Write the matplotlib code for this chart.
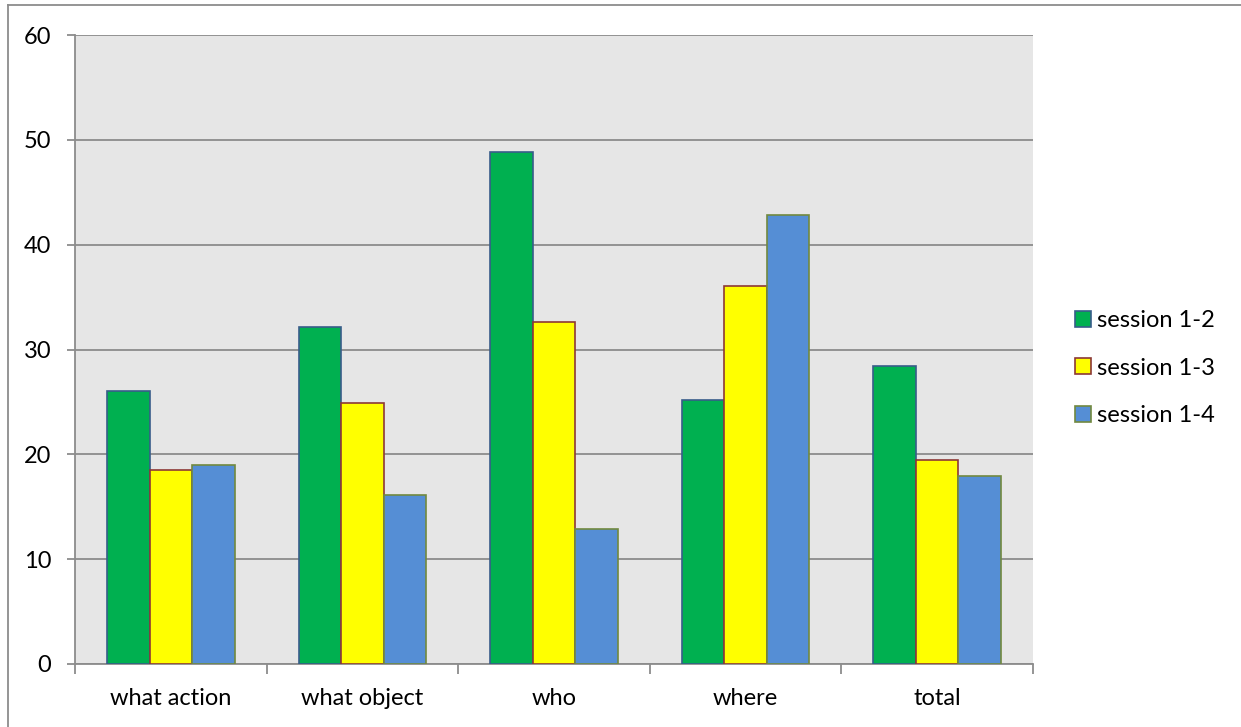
import matplotlib
matplotlib.use("Agg")
import matplotlib.pyplot as plt
from matplotlib.lines import Line2D
import numpy as np

plt.rcParams['font.family'] = ['Lato', 'DejaVu Sans']

# data
categories = ['what action', 'what object', 'who', 'where', 'total']
series_names = ['session 1-2', 'session 1-3', 'session 1-4']
session_12 = [26.0, 32.1, 48.8, 25.2, 28.4]
session_13 = [18.5, 24.9, 32.6, 36.1, 19.5]
session_14 = [19.0, 16.1, 12.9, 42.8, 17.9]

fills = ['#00b050', '#ffff00', '#558ed5']
edges = ['#385d8a', '#8c3836', '#71893f']

W, H = 1241, 727
fig = plt.figure(figsize=(W / 100, H / 100), dpi=100)
ax = fig.add_axes([75 / W, (H - 664) / H, 958 / W, 629 / H])

x = np.arange(len(categories))
w = 1 / 4.5
for j, vals in enumerate([session_12, session_13, session_14]):
    ax.bar(x + (j - 1) * w, vals, width=w, color=fills[j], edgecolor=edges[j],
           linewidth=1.2, label=series_names[j], zorder=3)

ax.set_facecolor('#e6e6e6')
ax.set_xlim(-0.5, len(categories) - 0.5)
ax.set_ylim(0, 60)
ax.set_yticks(range(0, 61, 10))
ax.yaxis.grid(True, color='#8c8c8c', linewidth=1.3, zorder=1)
ax.set_axisbelow(True)

fs = 17
ax.set_xticks(x)
ax.set_xticklabels(categories, fontsize=fs)
ax.set_xticks(np.arange(-0.5, len(categories), 1), minor=True)
ax.tick_params(axis='x', which='major', length=0, pad=17)
ax.tick_params(axis='x', which='minor', length=7, width=1.3, color='#8c8c8c')
ax.tick_params(axis='y', length=6, width=1.3, color='#8c8c8c', labelsize=fs, pad=11)

for s in ['top', 'right']:
    ax.spines[s].set_visible(False)
for s in ['left', 'bottom']:
    ax.spines[s].set_color('#8c8c8c')
    ax.spines[s].set_linewidth(1.3)

handles = [plt.Rectangle((0, 0), 1, 1, facecolor=fills[j], edgecolor=edges[j], linewidth=1.2)
           for j in range(3)]
fig.legend(handles, series_names, loc='center left', bbox_to_anchor=(1075 / W, 1 - 368 / H),
           frameon=False, fontsize=fs, handlelength=0.68, handleheight=0.68,
           handletextpad=0.25, labelspacing=1.12, borderpad=0, borderaxespad=0)

# outer chart border
fig.add_artist(Line2D([7.5 / W, 1], [1 - 5 / H, 1 - 5 / H], color='#8c8c8c', linewidth=1.3))
fig.add_artist(Line2D([7.5 / W, 7.5 / W], [0, 1 - 5 / H], color='#8c8c8c', linewidth=1.3))

fig.savefig('out.png', dpi=100)
